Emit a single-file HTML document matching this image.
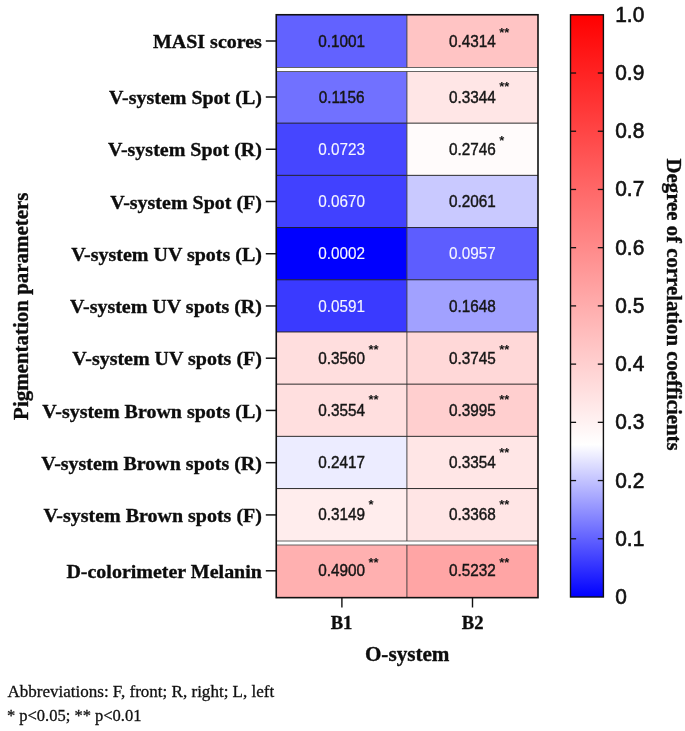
<!DOCTYPE html>
<html><head><meta charset="utf-8"><title>Heatmap</title>
<style>
html,body{margin:0;padding:0;background:#fff;}
svg{display:block;will-change:transform;}
text{font-family:"Liberation Sans",sans-serif;fill:#111;}
.lab{font-family:"Liberation Serif",serif;font-weight:bold;font-size:20.0px;text-anchor:end;fill:#0d0d0d;stroke:#0d0d0d;stroke-width:0.35px;}
.ttl{font-family:"Liberation Serif",serif;font-weight:bold;font-size:20.8px;text-anchor:middle;fill:#0d0d0d;stroke:#0d0d0d;stroke-width:0.35px;}
.xt{font-family:"Liberation Serif",serif;font-weight:bold;font-size:20.0px;text-anchor:middle;fill:#0d0d0d;stroke:#0d0d0d;stroke-width:0.35px;}
.cv{font-size:15.3px;text-anchor:middle;stroke-width:0.4px;}
.as{font-size:13.0px;text-anchor:start;font-weight:bold;}
.cb{font-size:20.9px;text-anchor:start;stroke:#111;stroke-width:0.6px;}
.ft{font-family:"Liberation Serif",serif;font-size:17.05px;fill:#111;stroke:#111;stroke-width:0.3px;}
</style></head><body>
<svg width="685" height="731" viewBox="0 0 685 731">
<defs><linearGradient id="g" x1="0" y1="0" x2="0" y2="1">
<stop offset="0" stop-color="rgb(255,0,0)"/><stop offset="0.7383" stop-color="rgb(255,255,255)"/><stop offset="1" stop-color="rgb(0,0,255)"/>
</linearGradient></defs>
<rect x="0" y="0" width="685" height="731" fill="#fff"/>

<rect x="276.25" y="14.75" width="130.64999999999998" height="52.75" fill="rgb(98,98,255)"/>
<rect x="406.9" y="14.75" width="131.10000000000002" height="52.75" fill="rgb(255,196,196)"/>
<rect x="276.25" y="70.95" width="130.64999999999998" height="52.20" fill="rgb(113,113,255)"/>
<rect x="406.9" y="70.95" width="131.10000000000002" height="52.20" fill="rgb(255,230,230)"/>
<rect x="276.25" y="123.15" width="130.64999999999998" height="52.20" fill="rgb(70,70,255)"/>
<rect x="406.9" y="123.15" width="131.10000000000002" height="52.20" fill="rgb(255,251,251)"/>
<rect x="276.25" y="175.35" width="130.64999999999998" height="52.20" fill="rgb(65,65,255)"/>
<rect x="406.9" y="175.35" width="131.10000000000002" height="52.20" fill="rgb(201,201,255)"/>
<rect x="276.25" y="227.55" width="130.64999999999998" height="52.20" fill="rgb(0,0,255)"/>
<rect x="406.9" y="227.55" width="131.10000000000002" height="52.20" fill="rgb(93,93,255)"/>
<rect x="276.25" y="279.75" width="130.64999999999998" height="52.20" fill="rgb(58,58,255)"/>
<rect x="406.9" y="279.75" width="131.10000000000002" height="52.20" fill="rgb(161,161,255)"/>
<rect x="276.25" y="331.95" width="130.64999999999998" height="52.20" fill="rgb(255,222,222)"/>
<rect x="406.9" y="331.95" width="131.10000000000002" height="52.20" fill="rgb(255,216,216)"/>
<rect x="276.25" y="384.15" width="130.64999999999998" height="52.20" fill="rgb(255,223,223)"/>
<rect x="406.9" y="384.15" width="131.10000000000002" height="52.20" fill="rgb(255,207,207)"/>
<rect x="276.25" y="436.35" width="130.64999999999998" height="52.20" fill="rgb(236,236,255)"/>
<rect x="406.9" y="436.35" width="131.10000000000002" height="52.20" fill="rgb(255,230,230)"/>
<rect x="276.25" y="488.55" width="130.64999999999998" height="52.20" fill="rgb(255,237,237)"/>
<rect x="406.9" y="488.55" width="131.10000000000002" height="52.20" fill="rgb(255,229,229)"/>
<rect x="276.25" y="545.00" width="130.64999999999998" height="52.65" fill="rgb(255,176,176)"/>
<rect x="406.9" y="545.00" width="131.10000000000002" height="52.65" fill="rgb(255,165,165)"/>
<line x1="276.25" x2="538.0" y1="123.15" y2="123.15" stroke="#151515" stroke-width="0.9"/>
<line x1="276.25" x2="538.0" y1="175.35" y2="175.35" stroke="#151515" stroke-width="0.9"/>
<line x1="276.25" x2="538.0" y1="227.55" y2="227.55" stroke="#151515" stroke-width="0.9"/>
<line x1="276.25" x2="538.0" y1="279.75" y2="279.75" stroke="#151515" stroke-width="0.9"/>
<line x1="276.25" x2="538.0" y1="331.95" y2="331.95" stroke="#151515" stroke-width="0.9"/>
<line x1="276.25" x2="538.0" y1="384.15" y2="384.15" stroke="#151515" stroke-width="0.9"/>
<line x1="276.25" x2="538.0" y1="436.35" y2="436.35" stroke="#151515" stroke-width="0.9"/>
<line x1="276.25" x2="538.0" y1="488.55" y2="488.55" stroke="#151515" stroke-width="0.9"/>
<rect x="276.25" y="67.5" width="261.75" height="4.0" fill="#fff"/>
<line x1="276.25" x2="538.0" y1="67.5" y2="67.5" stroke="#555" stroke-width="0.9"/>
<line x1="276.25" x2="538.0" y1="71.5" y2="71.5" stroke="#555" stroke-width="0.9"/>
<rect x="276.25" y="541.0" width="261.75" height="4.0" fill="#fff"/>
<line x1="276.25" x2="538.0" y1="541.0" y2="541.0" stroke="#555" stroke-width="0.9"/>
<line x1="276.25" x2="538.0" y1="545.0" y2="545.0" stroke="#555" stroke-width="0.9"/>
<line x1="406.9" x2="406.9" y1="14.75" y2="67.5" stroke="#333" stroke-width="0.9"/>
<line x1="406.9" x2="406.9" y1="71.5" y2="541.0" stroke="#333" stroke-width="0.9"/>
<line x1="406.9" x2="406.9" y1="545.0" y2="597.65" stroke="#333" stroke-width="0.9"/>
<rect x="276.25" y="14.75" width="261.75" height="582.9" fill="none" stroke="#111" stroke-width="1.6"/>
<line x1="265.8" x2="276.25" y1="41.00" y2="41.00" stroke="#111" stroke-width="1.5"/>
<text class="lab" transform="translate(261.9,47.70) scale(1,0.94)" x="0" y="0">MASI scores</text>
<text class="cv" transform="translate(341.57,46.55) scale(1,1.12)" x="0" y="0" style="fill:#161616;stroke:#161616">0.1001</text>
<text class="cv" transform="translate(472.45,46.55) scale(1,1.12)" x="0" y="0" style="fill:#161616;stroke:#161616">0.4314</text>
<text class="as" x="499.25" y="36.95">**</text>
<line x1="265.8" x2="276.25" y1="97.00" y2="97.00" stroke="#111" stroke-width="1.5"/>
<text class="lab" transform="translate(261.9,104.20) scale(1,0.94)" x="0" y="0">V-system Spot (L)</text>
<text class="cv" transform="translate(341.57,102.55) scale(1,1.12)" x="0" y="0" style="fill:#161616;stroke:#161616">0.1156</text>
<text class="cv" transform="translate(472.45,102.55) scale(1,1.12)" x="0" y="0" style="fill:#161616;stroke:#161616">0.3344</text>
<text class="as" x="499.25" y="90.90">**</text>
<line x1="265.8" x2="276.25" y1="149.24" y2="149.24" stroke="#111" stroke-width="1.5"/>
<text class="lab" transform="translate(261.9,156.44) scale(1,0.94)" x="0" y="0">V-system Spot (R)</text>
<text class="cv" transform="translate(341.57,154.79) scale(1,1.12)" x="0" y="0" style="fill:#f6f6ff;stroke:#f6f6ff;stroke-width:0.12px">0.0723</text>
<text class="cv" transform="translate(472.45,154.79) scale(1,1.12)" x="0" y="0" style="fill:#161616;stroke:#161616">0.2746</text>
<text class="as" x="499.25" y="144.80">*</text>
<line x1="265.8" x2="276.25" y1="201.48" y2="201.48" stroke="#111" stroke-width="1.5"/>
<text class="lab" transform="translate(261.9,208.68) scale(1,0.94)" x="0" y="0">V-system Spot (F)</text>
<text class="cv" transform="translate(341.57,207.03) scale(1,1.12)" x="0" y="0" style="fill:#f6f6ff;stroke:#f6f6ff;stroke-width:0.12px">0.0670</text>
<text class="cv" transform="translate(472.45,207.03) scale(1,1.12)" x="0" y="0" style="fill:#161616;stroke:#161616">0.2061</text>
<line x1="265.8" x2="276.25" y1="253.72" y2="253.72" stroke="#111" stroke-width="1.5"/>
<text class="lab" transform="translate(261.9,260.92) scale(1,0.94)" x="0" y="0">V-system UV spots (L)</text>
<text class="cv" transform="translate(341.57,259.27) scale(1,1.12)" x="0" y="0" style="fill:#f6f6ff;stroke:#f6f6ff;stroke-width:0.12px">0.0002</text>
<text class="cv" transform="translate(472.45,259.27) scale(1,1.12)" x="0" y="0" style="fill:#f6f6ff;stroke:#f6f6ff;stroke-width:0.12px">0.0957</text>
<line x1="265.8" x2="276.25" y1="305.96" y2="305.96" stroke="#111" stroke-width="1.5"/>
<text class="lab" transform="translate(261.9,313.16) scale(1,0.94)" x="0" y="0">V-system UV spots (R)</text>
<text class="cv" transform="translate(341.57,311.51) scale(1,1.12)" x="0" y="0" style="fill:#f6f6ff;stroke:#f6f6ff;stroke-width:0.12px">0.0591</text>
<text class="cv" transform="translate(472.45,311.51) scale(1,1.12)" x="0" y="0" style="fill:#161616;stroke:#161616">0.1648</text>
<line x1="265.8" x2="276.25" y1="358.20" y2="358.20" stroke="#111" stroke-width="1.5"/>
<text class="lab" transform="translate(261.9,365.40) scale(1,0.94)" x="0" y="0">V-system UV spots (F)</text>
<text class="cv" transform="translate(341.57,363.75) scale(1,1.12)" x="0" y="0" style="fill:#161616;stroke:#161616">0.3560</text>
<text class="as" x="368.38" y="353.50">**</text>
<text class="cv" transform="translate(472.45,363.75) scale(1,1.12)" x="0" y="0" style="fill:#161616;stroke:#161616">0.3745</text>
<text class="as" x="499.25" y="353.50">**</text>
<line x1="265.8" x2="276.25" y1="410.44" y2="410.44" stroke="#111" stroke-width="1.5"/>
<text class="lab" transform="translate(261.9,417.64) scale(1,0.94)" x="0" y="0">V-system Brown spots (L)</text>
<text class="cv" transform="translate(341.57,415.99) scale(1,1.12)" x="0" y="0" style="fill:#161616;stroke:#161616">0.3554</text>
<text class="as" x="368.38" y="404.10">**</text>
<text class="cv" transform="translate(472.45,415.99) scale(1,1.12)" x="0" y="0" style="fill:#161616;stroke:#161616">0.3995</text>
<text class="as" x="499.25" y="404.10">**</text>
<line x1="265.8" x2="276.25" y1="462.68" y2="462.68" stroke="#111" stroke-width="1.5"/>
<text class="lab" transform="translate(261.9,469.88) scale(1,0.94)" x="0" y="0">V-system Brown spots (R)</text>
<text class="cv" transform="translate(341.57,468.23) scale(1,1.12)" x="0" y="0" style="fill:#161616;stroke:#161616">0.2417</text>
<text class="cv" transform="translate(472.45,468.23) scale(1,1.12)" x="0" y="0" style="fill:#161616;stroke:#161616">0.3354</text>
<text class="as" x="499.25" y="457.10">**</text>
<line x1="265.8" x2="276.25" y1="514.92" y2="514.92" stroke="#111" stroke-width="1.5"/>
<text class="lab" transform="translate(261.9,522.12) scale(1,0.94)" x="0" y="0">V-system Brown spots (F)</text>
<text class="cv" transform="translate(341.57,520.47) scale(1,1.12)" x="0" y="0" style="fill:#161616;stroke:#161616">0.3149</text>
<text class="as" x="368.38" y="508.90">*</text>
<text class="cv" transform="translate(472.45,520.47) scale(1,1.12)" x="0" y="0" style="fill:#161616;stroke:#161616">0.3368</text>
<text class="as" x="499.25" y="508.90">**</text>
<line x1="265.8" x2="276.25" y1="570.80" y2="570.80" stroke="#111" stroke-width="1.5"/>
<text class="lab" transform="translate(261.9,578.00) scale(1,0.94)" x="0" y="0">D-colorimeter Melanin</text>
<text class="cv" transform="translate(341.57,576.35) scale(1,1.12)" x="0" y="0" style="fill:#161616;stroke:#161616">0.4900</text>
<text class="as" x="368.38" y="566.80">**</text>
<text class="cv" transform="translate(472.45,576.35) scale(1,1.12)" x="0" y="0" style="fill:#161616;stroke:#161616">0.5232</text>
<text class="as" x="499.25" y="566.80">**</text>
<line x1="341.9" x2="341.9" y1="597.65" y2="607.5" stroke="#111" stroke-width="1.4"/>
<text class="xt" x="341.5" y="628.8" style="font-size:18.6px">B1</text>
<line x1="472.5" x2="472.5" y1="597.65" y2="607.5" stroke="#111" stroke-width="1.4"/>
<text class="xt" x="472.7" y="628.8" style="font-size:18.6px">B2</text>
<text class="ttl" x="407.2" y="660.6" style="font-size:21.15px">O-system</text>
<text class="ttl" transform="translate(28.4,306.2) rotate(-90) scale(1,1.02)" x="0" y="0" style="font-size:20.95px">Pigmentation parameters</text>
<text class="ttl" transform="translate(666.5,304.5) rotate(90) scale(1,1.04)" x="0" y="0">Degree of correlation coefficients</text>
<rect x="570.5" y="14.8" width="32.89999999999998" height="582.2" fill="url(#g)" stroke="#111" stroke-width="1.4"/>
<text class="cb" transform="translate(615.2,604.00) scale(1,1.09)" x="0" y="0">0</text>
<line x1="570.5" x2="576.1" y1="538.78" y2="538.78" stroke="#111" stroke-width="1.3"/>
<line x1="597.8" x2="603.4" y1="538.78" y2="538.78" stroke="#111" stroke-width="1.3"/>
<text class="cb" transform="translate(615.2,545.78) scale(1,1.09)" x="0" y="0">0.1</text>
<line x1="570.5" x2="576.1" y1="480.56" y2="480.56" stroke="#111" stroke-width="1.3"/>
<line x1="597.8" x2="603.4" y1="480.56" y2="480.56" stroke="#111" stroke-width="1.3"/>
<text class="cb" transform="translate(615.2,487.56) scale(1,1.09)" x="0" y="0">0.2</text>
<line x1="570.5" x2="576.1" y1="422.34" y2="422.34" stroke="#111" stroke-width="1.3"/>
<line x1="597.8" x2="603.4" y1="422.34" y2="422.34" stroke="#111" stroke-width="1.3"/>
<text class="cb" transform="translate(615.2,429.34) scale(1,1.09)" x="0" y="0">0.3</text>
<line x1="570.5" x2="576.1" y1="364.12" y2="364.12" stroke="#111" stroke-width="1.3"/>
<line x1="597.8" x2="603.4" y1="364.12" y2="364.12" stroke="#111" stroke-width="1.3"/>
<text class="cb" transform="translate(615.2,371.12) scale(1,1.09)" x="0" y="0">0.4</text>
<line x1="570.5" x2="576.1" y1="305.90" y2="305.90" stroke="#111" stroke-width="1.3"/>
<line x1="597.8" x2="603.4" y1="305.90" y2="305.90" stroke="#111" stroke-width="1.3"/>
<text class="cb" transform="translate(615.2,312.90) scale(1,1.09)" x="0" y="0">0.5</text>
<line x1="570.5" x2="576.1" y1="247.68" y2="247.68" stroke="#111" stroke-width="1.3"/>
<line x1="597.8" x2="603.4" y1="247.68" y2="247.68" stroke="#111" stroke-width="1.3"/>
<text class="cb" transform="translate(615.2,254.68) scale(1,1.09)" x="0" y="0">0.6</text>
<line x1="570.5" x2="576.1" y1="189.46" y2="189.46" stroke="#111" stroke-width="1.3"/>
<line x1="597.8" x2="603.4" y1="189.46" y2="189.46" stroke="#111" stroke-width="1.3"/>
<text class="cb" transform="translate(615.2,196.46) scale(1,1.09)" x="0" y="0">0.7</text>
<line x1="570.5" x2="576.1" y1="131.24" y2="131.24" stroke="#111" stroke-width="1.3"/>
<line x1="597.8" x2="603.4" y1="131.24" y2="131.24" stroke="#111" stroke-width="1.3"/>
<text class="cb" transform="translate(615.2,138.24) scale(1,1.09)" x="0" y="0">0.8</text>
<line x1="570.5" x2="576.1" y1="73.02" y2="73.02" stroke="#111" stroke-width="1.3"/>
<line x1="597.8" x2="603.4" y1="73.02" y2="73.02" stroke="#111" stroke-width="1.3"/>
<text class="cb" transform="translate(615.2,80.02) scale(1,1.09)" x="0" y="0">0.9</text>
<text class="cb" transform="translate(615.2,21.80) scale(1,1.09)" x="0" y="0">1.0</text>
<text class="ft" x="7.4" y="697.3">Abbreviations: F, front; R, right; L, left</text>
<text class="ft" x="6.9" y="721.4" style="font-size:16.5px">* p&lt;0.05; ** p&lt;0.01</text>
</svg></body></html>
